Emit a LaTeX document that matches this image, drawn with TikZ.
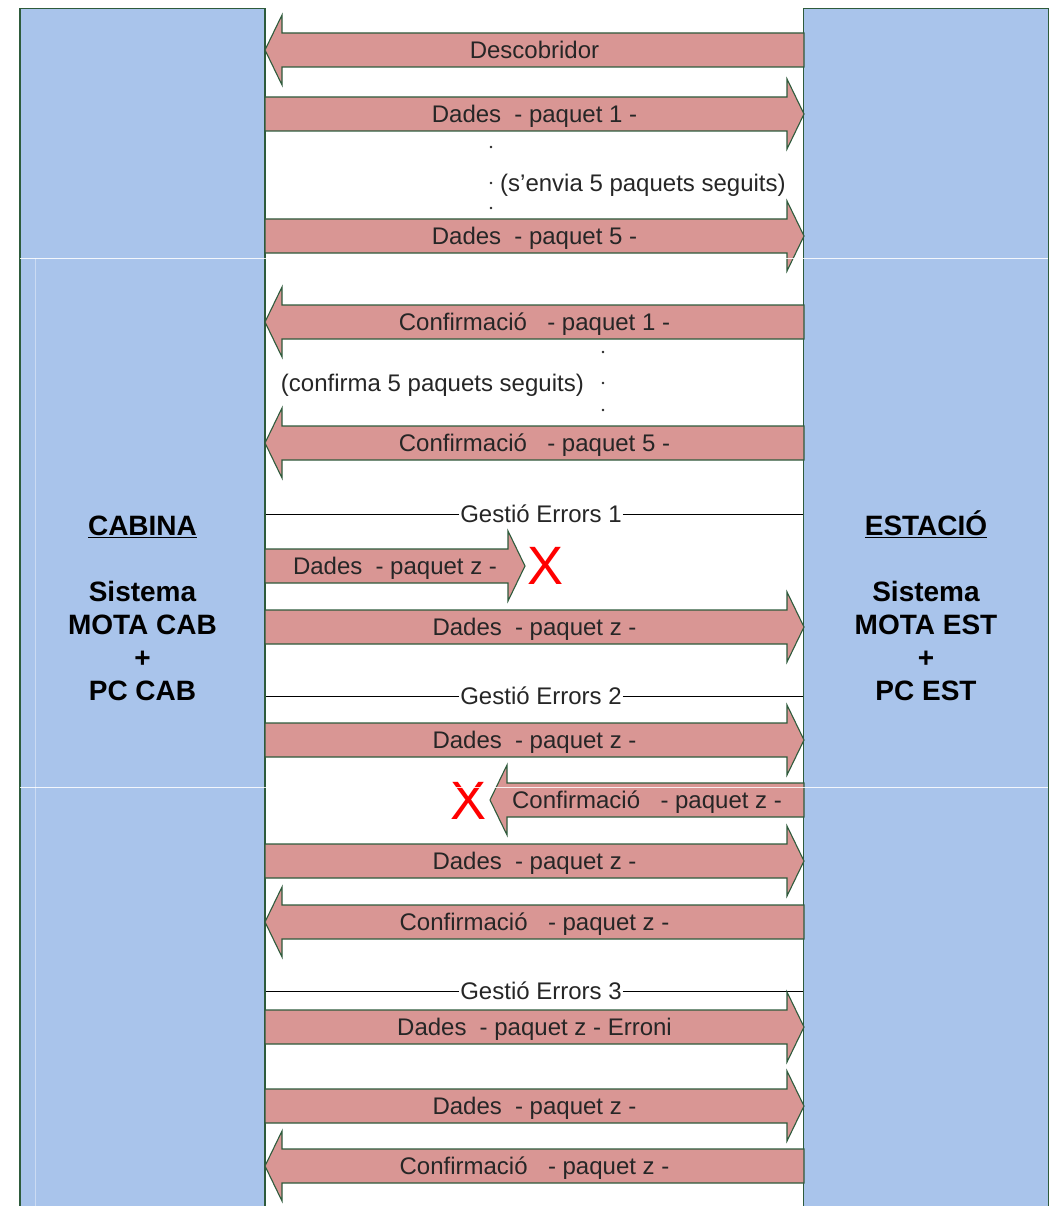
\documentclass[tikz,border=0pt]{standalone}
\usepackage{fontspec}
\setmainfont{Liberation Sans}

\definecolor{colblue}{HTML}{A9C4EB}
\definecolor{msgred}{HTML}{D99694}
\definecolor{edgegreen}{HTML}{2E5B3C}
\definecolor{inkgray}{HTML}{262626}

\tikzset{
  column/.style={draw=edgegreen, line width=1.3pt, fill=colblue, minimum width=245pt, inner sep=0pt},
  collabel/.style={align=center, font=\fontsize{28}{33}\selectfont\bfseries, text=black},
  msgarrow/.style={fill=msgred, draw=edgegreen, line width=1.1pt},
  msgtext/.style={text=inkgray, inner sep=0pt, text height=17pt, text depth=0pt, font=\fontsize{24}{28}\selectfont},
  gestlabel/.style={fill=white, text=inkgray, inner sep=1pt, text height=17pt, text depth=0pt, font=\fontsize{24}{28}\selectfont},
  gestline/.style={draw=black, line width=0.9pt},
  cross/.style={text=red, inner sep=0pt, text height=39pt, text depth=0pt, font=\fontsize{54}{54}\selectfont},
  notetext/.style={text=inkgray, inner sep=0pt, text height=17pt, text depth=0pt, font=\fontsize{24}{28}\selectfont}
}

\begin{document}
\begin{tikzpicture}[x=1pt, y=-1pt, line join=miter]
  \useasboundingbox (0,0) rectangle (1050,1206);
  \def\msgright#1#2#3#4#5{
    \begin{scope}[shift={(0,#2)}]
      \filldraw[msgarrow] (#3,-17) -- (#4-17,-17) -- (#4-17,-35) -- (#4,0) -- (#4-17,35) -- (#4-17,17) -- (#3,17) -- cycle;
      \node[msgtext] (#1) at ({(#3+#4)/2},0) {#5};
    \end{scope}
  }
  \def\msgleft#1#2#3#4#5{
    \begin{scope}[shift={(0,#2)}]
      \filldraw[msgarrow] (#4,-17) -- (#3+17,-17) -- (#3+17,-35) -- (#3,0) -- (#3+17,35) -- (#3+17,17) -- (#4,17) -- cycle;
      \node[msgtext] (#1) at ({(#3+#4)/2},0) {#5};
    \end{scope}
  }

  % the two systems
  \node[column, minimum height=1210pt, anchor=north] (cab) at (142.5,8) {};
  \node[column, minimum height=1210pt, anchor=north] (est) at (926,8) {};
  \node[collabel] (cablbl) at (142.5,608) {\underline{CABINA}\\[33pt] Sistema\\ MOTA CAB\\ +\\ PC CAB};
  \node[collabel] (estlbl) at (926,605.5) {\underline{ESTACIÓ}\\[33pt] Sistema\\ MOTA EST\\ +\\ PC EST};

  % discovery and 5 data packets
  \msgleft{m1}{50}{265}{804}{Descobridor}
  \msgright{m2}{114}{265}{804}{Dades\hspace{0.55em}- paquet 1 -}
  \foreach \yy in {147,183,208} \fill[inkgray] (491,\yy) circle (1.3pt);
  \node[notetext, anchor=west] (n1) at (500,183) {(s’envia 5 paquets seguits)};
  \msgright{m3}{236}{265}{804}{Dades\hspace{0.55em}- paquet 5 -}

  % confirmations
  \msgleft{m4}{322}{265}{804}{Confirmació\hspace{0.85em}- paquet 1 -}
  \foreach \yy in {352,383,410} \fill[inkgray] (603,\yy) circle (1.3pt);
  \node[notetext, anchor=east] (n2) at (584,383) {(confirma 5 paquets seguits)};
  \msgleft{m5}{443}{265}{804}{Confirmació\hspace{0.85em}- paquet 5 -}

  % error case 1
  \node[gestlabel] (g1) at (541,514) {Gestió Errors 1};
  \draw[gestline] (g1.west) -- (g1.west -| cab.east);
  \draw[gestline] (g1.east) -- (g1.east -| est.west);
  \msgright{m6}{566}{265}{525}{Dades\hspace{0.55em}- paquet z -}
  \node[cross] (x1) at (546,565) {X};
  \msgright{m7}{627}{265}{804}{Dades\hspace{0.55em}- paquet z -}

  % error case 2
  \node[gestlabel] (g2) at (541,696) {Gestió Errors 2};
  \draw[gestline] (g2.west) -- (g2.west -| cab.east);
  \draw[gestline] (g2.east) -- (g2.east -| est.west);
  \msgright{m8}{740}{265}{804}{Dades\hspace{0.55em}- paquet z -}
  \msgleft{m9}{800}{490}{804}{Confirmació\hspace{0.85em}- paquet z -}
  \node[cross] (x2) at (469,800) {X};
  \msgright{m10}{861}{265}{804}{Dades\hspace{0.55em}- paquet z -}
  \msgleft{m11}{922}{265}{804}{Confirmació\hspace{0.85em}- paquet z -}

  % error case 3
  \node[gestlabel] (g3) at (541,991) {Gestió Errors 3};
  \draw[gestline] (g3.west) -- (g3.west -| cab.east);
  \draw[gestline] (g3.east) -- (g3.east -| est.west);
  \msgright{m12}{1027}{265}{804}{Dades\hspace{0.55em}- paquet z - Erroni}
  \msgright{m13}{1106}{265}{804}{Dades\hspace{0.55em}- paquet z -}
  \msgleft{m14}{1166}{265}{804}{Confirmació\hspace{0.85em}- paquet z -}

  % page breaks of the original
  \draw[white, line width=0.8pt, opacity=0.85] (20,258) -- (1048,258);
  \draw[white, line width=0.8pt, opacity=0.85] (20,787) -- (1048,787);
  \draw[white, line width=0.6pt, opacity=0.4] (35,258) -- (35,1206);
\end{tikzpicture}
\end{document}
